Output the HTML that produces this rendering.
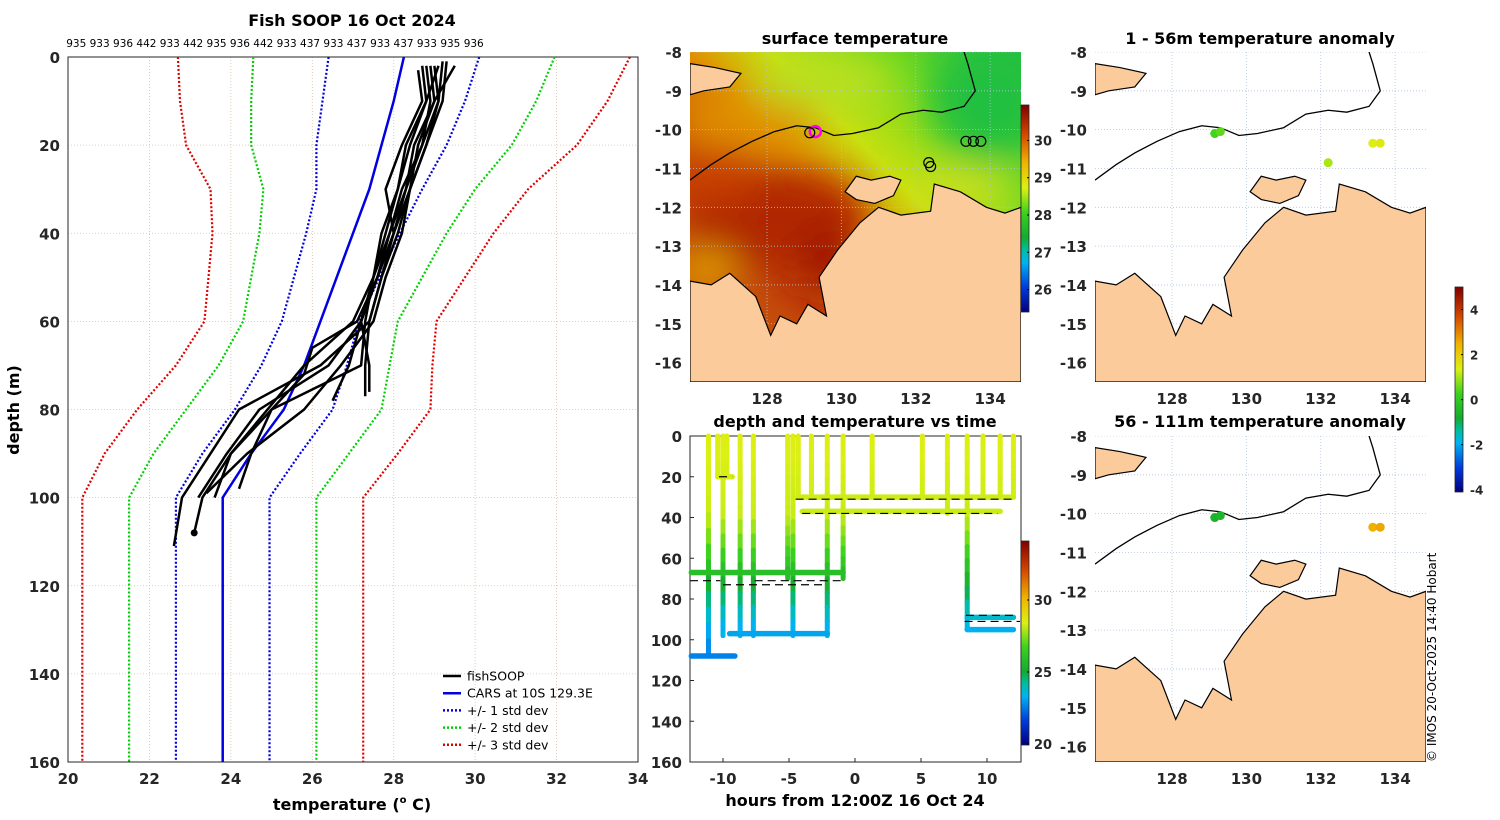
<!DOCTYPE html>
<html><head><meta charset="utf-8">
<style>
html,body{margin:0;padding:0;background:#fff;}
svg{display:block;font-family:"DejaVu Sans","Liberation Sans",sans-serif;}
.tk{font-size:15px;font-weight:bold;fill:#262626;}
.tt{font-size:16px;font-weight:bold;fill:#000;}
</style></head>
<body>
<svg id="fig" width="1500" height="820" viewBox="0 0 1500 820" xmlns="http://www.w3.org/2000/svg">
<defs>
<linearGradient id="sstg" x1="0" y1="1" x2="1" y2="0">
<stop offset="0" stop-color="#d07010"/><stop offset="0.3" stop-color="#c04008"/><stop offset="0.5" stop-color="#e09000"/><stop offset="0.62" stop-color="#c8e010"/><stop offset="0.8" stop-color="#70d820"/><stop offset="1" stop-color="#20c040"/>
</linearGradient>
<filter id="blur"><feGaussianBlur stdDeviation="18"/></filter>
<linearGradient id="cb1" x1="0" y1="1" x2="0" y2="0">
<stop offset="0" stop-color="#00007f"/><stop offset="0.12" stop-color="#003cdc"/><stop offset="0.24" stop-color="#00b4f0"/><stop offset="0.3" stop-color="#00bea0"/><stop offset="0.36" stop-color="#14aa32"/><stop offset="0.48" stop-color="#3cd21e"/><stop offset="0.6" stop-color="#dcf014"/><stop offset="0.72" stop-color="#f0b400"/><stop offset="0.86" stop-color="#d24600"/><stop offset="1" stop-color="#800000"/>
</linearGradient>
<clipPath id="c1"><rect x="690" y="52" width="331" height="330"/></clipPath>
<clipPath id="c2"><rect x="1095" y="52" width="331" height="330"/></clipPath>
<clipPath id="c3"><rect x="1095" y="436" width="331" height="326"/></clipPath>
</defs>
<g id="root"></g>
</svg>
<script>
// ===== Left panel data =====
const carsDepth=[0,10,20,30,40,50,60,70,80,90,100,160];
const carsTemp=[28.25,28.0,27.7,27.4,27.0,26.6,26.2,25.8,25.3,24.5,23.8,23.8];
const carsStd=[1.85,1.75,1.6,1.3,1.15,1.05,0.95,1.05,1.2,1.2,1.15,1.15];
const fishDepths=[
 [2,10,20,30,40,50,60,70,80,90,100,111],
 [2,10,20,30,40,50,60,70,80,90,100,108],
 [1,10,20,30,40,50,60,70,77],
 [2,10,20,30,40,50,60,70,76],
 [2,10,20,30,40,50,60,70,80,90,100],
 [3,10,20,30,40,50,60,66,72,80,90,98],
 [2,10,20,30,40,50,60,70,80,90,99],
 [1,10,20,30,40,50,60,70,78],
 [2,10,20,30,40,50,60,70,80,90,100]];
const fishTemps=[
 [28.9,29.0,28.5,28.3,28.0,27.7,27.4,26.2,24.2,23.5,22.8,22.6],
 [28.7,28.8,28.4,28.1,27.8,27.5,27.3,27.2,25.0,24.0,23.3,23.1],
 [29.2,29.1,28.8,28.4,28.1,27.7,27.4,27.3,27.3],
 [28.8,28.9,28.7,28.2,27.9,27.6,27.2,27.4,27.4],
 [29.1,28.8,28.3,28.1,27.7,27.5,27.0,25.8,24.9,24.0,23.6],
 [28.6,28.7,28.2,27.8,28.0,27.6,27.1,26.0,25.8,25.0,24.5,24.2],
 [29.5,29.0,28.6,28.4,28.2,27.8,27.5,26.7,25.8,24.4,23.4],
 [29.3,29.2,28.8,28.4,28.0,27.6,27.2,26.9,26.5],
 [29.0,29.1,28.7,28.3,27.9,27.5,27.2,26.4,24.7,23.9,23.2]];
const tempTicks=[20,22,24,26,28,30,32,34];
const depthTicks=[0,20,40,60,80,100,120,140,160];
const headerIds="935 933 936 442 933 442 935 936 442 933 437 933 437 933 437 933 935 936";

// ===== Time-depth data =====
const hSegStart=[-12.4,-9.5,-12.4,-10.4,-4.3,-4.0,8.5,8.5];
const hSegEnd=[-9.1,-2.1,-0.9,-9.3,12.0,11.0,12.0,12.0];
const hSegDepth=[108,97,67,20,30,37,89,95];
const spikeTime=[-11.1,-10.4,-10.0,-9.7,-8.7,-7.7,-5.1,-4.7,-4.3,-3.3,-2.1,-0.9,1.3,5.1,7.0,8.5,9.7,11.0,12.0];
const spikeDepth=[108,20,98,20,98,98,70,98,30,30,98,70,30,30,38,95,30,30,30];
const dashStart=[-12.5,-10.0,-7.6,-10.3,-4.5,-4.0,8.4,8.3];
const dashEnd=[-10.2,-2.5,-0.9,-9.3,12.2,10.8,12.3,12.5];
const dashDepth=[71,73,71,20,31,38,88,91];
const profDepth=[0,40,55,67,85,97,110];
const profTemp=[28.5,28.2,27.0,25.9,24.0,23.1,22.5];
const hourTicks=[-10,-5,0,5,10];
const depthTicks2=[0,20,40,60,80,100,120,140,160];

// ===== Map data =====
const latTicks=[-8,-9,-10,-11,-12,-13,-14,-15,-16];
const lonTicks=[128,130,132,134];
const coastLon=[125.93,126.5,127.0,127.7,128.1,128.35,128.8,129.1,129.6,129.4,129.9,130.5,131.0,131.6,132.4,132.5,133.2,133.9,134.4,134.83];
const coastLat=[-13.9,-14.0,-13.7,-14.3,-15.3,-14.8,-15.0,-14.5,-14.8,-13.8,-13.1,-12.4,-12.0,-12.2,-12.1,-11.4,-11.6,-12.0,-12.15,-12.0];
const melLon=[130.1,130.4,130.8,131.3,131.6,131.4,130.9,130.4];
const melLat=[-11.6,-11.2,-11.3,-11.2,-11.3,-11.7,-11.9,-11.8];
const timLon=[125.93,126.6,127.3,127.0,126.3,125.93];
const timLat=[-8.3,-8.4,-8.55,-8.9,-9.0,-9.1];
const isoLon=[125.93,126.5,127.0,127.6,128.2,128.8,129.3,129.8,130.3,131.0,131.6,132.2,132.7,133.3,133.6,133.4,133.3];
const isoLat=[-11.3,-10.9,-10.6,-10.3,-10.05,-9.9,-9.95,-10.15,-10.1,-9.95,-9.6,-9.5,-9.55,-9.4,-9.0,-8.3,-8.0];
const anomTopLon=[129.15,129.3,132.2,133.4,133.6];
const anomTopLat=[-10.1,-10.05,-10.85,-10.35,-10.35];
const anomTopVal=[0.3,0.5,1.0,1.4,1.5];
const anomBotLon=[129.15,129.3,133.4,133.6];
const anomBotLat=[-10.1,-10.05,-10.35,-10.35];
const anomBotVal=[-0.6,-0.5,2.5,2.6];
const sstTicks=[26,27,28,29,30];
const tcbTicks=[20,25,30];
const anomTicks=[4,2,0,-2,-4];

const NS="http://www.w3.org/2000/svg";
const root=document.getElementById('root');
function mk(tag,attrs,parent){const e=document.createElementNS(NS,tag);for(const k in attrs)e.setAttribute(k,attrs[k]);(parent||root).appendChild(e);return e;}
function txt(x,y,s,cls,anchor,parent){const t=mk('text',{x:x,y:y,'class':cls,'text-anchor':anchor||'middle'},parent);t.textContent=s;return t;}

const jet=[[0,0,0,127],[0.12,0,60,220],[0.24,0,180,240],[0.3,0,190,160],[0.36,20,170,50],[0.48,60,210,30],[0.6,220,240,20],[0.72,240,180,0],[0.86,210,70,0],[1,128,0,0]];
function cmap(f){f=Math.max(0,Math.min(1,f));for(let i=1;i<jet.length;i++){if(f<=jet[i][0]){const a=jet[i-1],b=jet[i],u=(f-a[0])/(b[0]-a[0]);return `rgb(${Math.round(a[1]+u*(b[1]-a[1]))},${Math.round(a[2]+u*(b[2]-a[2]))},${Math.round(a[3]+u*(b[3]-a[3]))})`;}}return 'rgb(128,0,0)';}

// ===== LEFT PANEL =====
const L={x0:68,x1:638,y0:57,y1:762};
const lx=t=>L.x0+(t-20)/14*(L.x1-L.x0);
const ly=d=>L.y0+d/160*(L.y1-L.y0);
const gL=mk('g',{});


tempTicks.forEach(t=>{const l=mk('line',{x1:lx(t),x2:lx(t),y1:L.y0,y2:L.y1,stroke:'#d8c0a0','stroke-width':0.8,'stroke-dasharray':'1,2'},gL);});
depthTicks.forEach(d=>{const l=mk('line',{x1:L.x0,x2:L.x1,y1:ly(d),y2:ly(d),stroke:'#d8c0a0','stroke-width':0.8,'stroke-dasharray':'1,2'},gL);});
const frL=mk('rect',{x:L.x0,y:L.y0,width:L.x1-L.x0,height:L.y1-L.y0,fill:'none',stroke:'#262626','stroke-width':1},gL);

function ptsStr(ts,ds){return ts.map((t,i)=>lx(t).toFixed(1)+','+ly(ds[i]).toFixed(1)).join(' ');}
[[3,'#e00000'],[2,'#00d000'],[1,'#0000e0']].forEach(([k,c])=>{
 [-1,1].forEach(s=>{const p=mk('polyline',{points:ptsStr(carsTemp.map((t,i)=>t+s*k*carsStd[i]),carsDepth),fill:'none',stroke:c,'stroke-width':2.2,'stroke-dasharray':'2,2'},gL);
 });
});
const cars=mk('polyline',{points:ptsStr(carsTemp,carsDepth),fill:'none',stroke:'#0000e0','stroke-width':2.5},gL);

fishTemps.forEach((ts,i)=>{const p=mk('polyline',{points:ptsStr(ts,fishDepths[i]),fill:'none',stroke:'#000','stroke-width':2.5,'stroke-linejoin':'round'},gL);
 });
const dot=mk('circle',{cx:lx(fishTemps[1][fishTemps[1].length-1]),cy:ly(fishDepths[1][fishDepths[1].length-1]),r:3.5,fill:'#000'},gL);

tempTicks.forEach(t=>{const e=txt(lx(t),L.y1+22,t,'tk','middle',gL);});
depthTicks.forEach(d=>{const e=txt(L.x0-8,ly(d)+6,d,'tk','end',gL);});
let e=txt(352,26,'Fish SOOP 16 Oct 2024','tt','middle',gL);
e=mk('text',{x:275,y:47,'font-size':'10.5px',fill:'#000'},gL);e.textContent=headerIds;e.setAttribute('text-anchor','middle');
e=mk('text',{x:352,y:810,'text-anchor':'middle','class':'tt'},gL);e.innerHTML='temperature (<tspan font-size="10" dy="-7">o</tspan><tspan dy="7"> C)</tspan>';
e=mk('text',{x:19,y:410,'text-anchor':'middle','class':'tt',transform:'rotate(-90 19 410)'},gL);e.textContent='depth (m)';
const leg=mk('g',{},gL);
[['fishSOOP','#000',''],['CARS at 10S 129.3E','#0000e0',''],['+/- 1 std dev','#0000e0','2,2'],['+/- 2 std dev','#00d000','2,2'],['+/- 3 std dev','#e00000','2,2']].forEach(([s,c,da],i)=>{
 const y=676+i*17.2;const g=mk('g',{},leg);
 mk('line',{x1:443,x2:461,y1:y,y2:y,stroke:c,'stroke-width':2.5,'stroke-dasharray':da},g);
 const t=mk('text',{x:467,y:y+4.5,'font-size':'12.5px',fill:'#000'},g);t.textContent=s;
});

// ===== MAP helper =====
function mapPanel(X0,Y0,W,H,clip,name,ocean){
 const g=mk('g',{});
 const mx=lon=>X0+(lon-125.93)/(134.83-125.93)*W;
 const my=lat=>Y0+(-8-lat)/(8.5)*330;
 const gc=mk('g',{'clip-path':'url(#'+clip+')'},g);
 if(ocean){
  mk('rect',{x:X0,y:Y0,width:W,height:H,fill:'url(#sstg)'},gc);
  const bl=mk('g',{filter:'url(#blur)'},gc);
  mk('ellipse',{cx:mx(128.3),cy:my(-12.3),rx:90,ry:50,fill:'#b02800'},bl);
  mk('ellipse',{cx:mx(126.4),cy:my(-13.6),rx:30,ry:20,fill:'#e0a000'},bl);
  mk('ellipse',{cx:mx(126.6),cy:my(-11.2),rx:45,ry:25,fill:'#c84000'},bl);
  mk('ellipse',{cx:mx(127.5),cy:my(-9.8),rx:70,ry:22,fill:'#e09000'},bl);
  mk('ellipse',{cx:mx(134),cy:my(-9.2),rx:60,ry:60,fill:'#20c040'},bl);
  mk('ellipse',{cx:mx(129.5),cy:my(-8.8),rx:70,ry:25,fill:'#b8e020'},bl);
  mk('ellipse',{cx:mx(129.6),cy:my(-13.4),rx:30,ry:35,fill:'#a01800'},bl);
  mk('ellipse',{cx:mx(133.3),cy:my(-11.5),rx:50,ry:15,fill:'#d8e020'},bl);
 } else {
  mk('rect',{x:X0,y:Y0,width:W,height:H,fill:'#fff'},gc);
 }
 lonTicks.forEach(l=>mk('line',{x1:mx(l),x2:mx(l),y1:Y0,y2:Y0+H,stroke:'#b0c4de','stroke-width':0.8,'stroke-dasharray':'1,2'},gc));
 latTicks.forEach(l=>mk('line',{x1:X0,x2:X0+W,y1:my(l),y2:my(l),stroke:'#b0c4de','stroke-width':0.8,'stroke-dasharray':'1,2'},gc));
 const land=coastLon.map((l,i)=>mx(l).toFixed(1)+','+my(coastLat[i]).toFixed(1)).join(' ')+` ${X0+W},${Y0+H} ${X0},${Y0+H}`;
 const lp=mk('polygon',{points:land,fill:'#fbcb9b',stroke:'#000','stroke-width':1.2},gc);
 const mel=mk('polygon',{points:melLon.map((l,i)=>mx(l)+','+my(melLat[i])).join(' '),fill:'#fbcb9b',stroke:'#000','stroke-width':1.2},gc);
 const tim=mk('polygon',{points:timLon.map((l,i)=>mx(l)+','+my(timLat[i])).join(' '),fill:'#fbcb9b',stroke:'#000','stroke-width':1.2},gc);
 const iso=mk('polyline',{points:isoLon.map((l,i)=>mx(l)+','+my(isoLat[i])).join(' '),fill:'none',stroke:'#000','stroke-width':1.3},gc);
 latTicks.forEach(l=>{const t=txt(X0-8,my(l)+6,l,'tk','end',g);});
 lonTicks.forEach(l=>{const t=txt(mx(l),Y0+H+22,l,'tk','middle',g);});
 return {g,mx,my,gc};
}
const m1=mapPanel(690,52,331,330,'c1','surface-temperature-map',true);
e=txt(855,44,'surface temperature','tt','middle');
[[129.3,-10.05,'#ff00ff'],[129.15,-10.08,'#000'],[133.35,-10.3,'#000'],[133.55,-10.3,'#000'],[133.75,-10.3,'#000'],[132.35,-10.85,'#000'],[132.4,-10.95,'#000']].forEach(([lo,la,c])=>{
 const ci=mk('circle',{cx:m1.mx(lo),cy:m1.my(la),r:c==='#000'?5:5.5,fill:'none',stroke:c,'stroke-width':c==='#000'?1.2:2.5},m1.g);});
const cb1=mk('rect',{x:1021,y:105,width:8,height:207,fill:'url(#cb1)',stroke:'#262626','stroke-width':0.8});
const cby1=v=>312-(v-25.4)/(30.95-25.4)*207;
sstTicks.forEach(v=>{mk('line',{x1:1027,x2:1029,y1:cby1(v),y2:cby1(v),stroke:'#000'});const t=txt(1034,cby1(v)+5,v,'tk','start');t.setAttribute('style','font-size:13px');});

const m2=mapPanel(1095,52,331,330,'c2','anomaly-map-shallow',false);
e=txt(1260,44,'1 - 56m temperature anomaly','tt','middle');
const m3=mapPanel(1095,436,331,326,'c3','anomaly-map-deep',false);
e=txt(1260,427,'56 - 111m temperature anomaly','tt','middle');
const af=v=>(v+4.1)/(5.0+4.1);
anomTopLon.forEach((lo,i)=>{const c=mk('circle',{cx:m2.mx(lo),cy:m2.my(anomTopLat[i]),r:4.5,fill:cmap(af(anomTopVal[i]))},m2.g);});
anomBotLon.forEach((lo,i)=>{const c=mk('circle',{cx:m3.mx(lo),cy:m3.my(anomBotLat[i]),r:4.5,fill:cmap(af(anomBotVal[i]))},m3.g);});
const cb3=mk('rect',{x:1455,y:287,width:8,height:205,fill:'url(#cb1)',stroke:'#262626','stroke-width':0.8});
const cby3=v=>492-(v+4.1)/(9.1)*205;
anomTicks.forEach(v=>{mk('line',{x1:1461,x2:1463,y1:cby3(v),y2:cby3(v),stroke:'#000'});const t=txt(1470,cby3(v)+5,v,'tk','start');t.setAttribute('style','font-size:12px');});
e=mk('text',{x:1436,y:762,'font-size':'12px',fill:'#000',transform:'rotate(-90 1436 762)'});e.textContent='© IMOS 20-Oct-2025 14:40 Hobart';

// ===== TIME-DEPTH PANEL =====
const T={x0:690,x1:1021,y0:436,y1:762};
const tx=h=>855+h*13.2;
const ty=d=>T.y0+d/160*(T.y1-T.y0);
const gT=mk('g',{});
mk('rect',{x:T.x0,y:T.y0,width:T.x1-T.x0,height:T.y1-T.y0,fill:'#fff',stroke:'#262626'},gT);
function tempAt(d){for(let i=1;i<profDepth.length;i++){if(d<=profDepth[i]){const u=(d-profDepth[i-1])/(profDepth[i]-profDepth[i-1]);return profTemp[i-1]+u*(profTemp[i]-profTemp[i-1]);}}return profTemp[profTemp.length-1];}
const tf=t=>(t-19.9)/(34.1-19.9);
const trace=mk('g',{'stroke-linecap':'round'},gT);
spikeTime.forEach((t,i)=>{const n=14;for(let k=0;k<n;k++){const d0=spikeDepth[i]*k/n,d1=spikeDepth[i]*(k+1)/n;mk('line',{x1:tx(t),x2:tx(t),y1:ty(d0),y2:ty(d1),stroke:cmap(tf(tempAt((d0+d1)/2))),'stroke-width':5},trace);}});
hSegStart.forEach((s,i)=>{const l=mk('line',{x1:tx(s),x2:tx(hSegEnd[i]),y1:ty(hSegDepth[i]),y2:ty(hSegDepth[i]),stroke:cmap(tf(tempAt(hSegDepth[i]))),'stroke-width':5.5},trace);});
dashStart.forEach((s,i)=>{const l=mk('line',{x1:tx(s),x2:tx(dashEnd[i]),y1:ty(dashDepth[i]),y2:ty(dashDepth[i]),stroke:'#000','stroke-width':1.2,'stroke-dasharray':'8,5'},gT);});
hourTicks.forEach(h=>{mk('line',{x1:tx(h),x2:tx(h),y1:T.y1,y2:T.y1-4,stroke:'#262626'},gT);const t=txt(tx(h),T.y1+22,h,'tk','middle',gT);});
depthTicks2.forEach(d=>{mk('line',{x1:T.x0,x2:T.x0+4,y1:ty(d),y2:ty(d),stroke:'#262626'},gT);const t=txt(T.x0-8,ty(d)+6,d,'tk','end',gT);});
e=txt(855,427,'depth and temperature vs time','tt','middle',gT);
e=txt(855,806,'hours from 12:00Z 16 Oct 24','tt','middle',gT);
const cb2=mk('rect',{x:1021,y:541,width:8,height:204,fill:'url(#cb1)',stroke:'#262626','stroke-width':0.8});
const cby2=v=>744-(v-20)/5*72;
tcbTicks.forEach(v=>{mk('line',{x1:1027,x2:1029,y1:cby2(v),y2:cby2(v),stroke:'#000'});const t=txt(1034,cby2(v)+5,v,'tk','start');t.setAttribute('style','font-size:13px');});
</script>
</body></html>
